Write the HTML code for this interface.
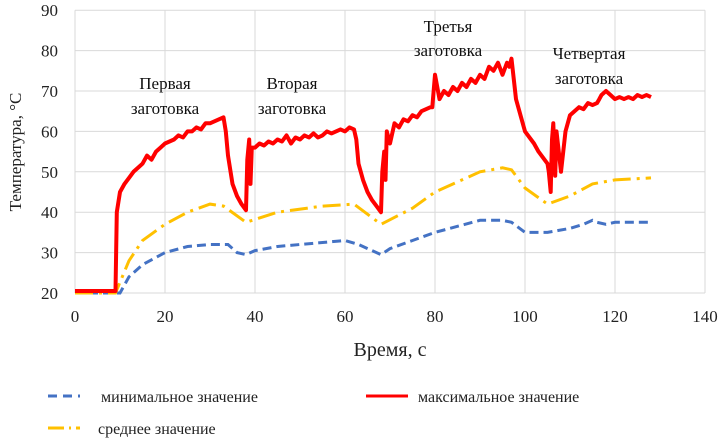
<!DOCTYPE html>
<html><head><meta charset="utf-8">
<style>
body{margin:0;background:#fff;}
svg text{font-family:"Liberation Serif",serif;}
</style></head>
<body>
<svg id="chart" width="721" height="442" viewBox="0 0 721 442" xmlns="http://www.w3.org/2000/svg">
<g id="grid"></g>
<g id="ticks"></g>
<g id="series"></g>
<text x="0" y="0" transform="translate(21,152) rotate(-90)" text-anchor="middle" font-size="17" fill="#222">Температура, °C</text>
<text x="390" y="356" text-anchor="middle" font-size="20" fill="#222">Время, с</text>
<g font-size="17" fill="#111" text-anchor="middle">
<text x="165" y="89">Первая</text>
<text x="165" y="114">заготовка</text>
<text x="292" y="89">Вторая</text>
<text x="292" y="114">заготовка</text>
<text x="448" y="32">Третья</text>
<text x="448" y="56">заготовка</text>
<text x="589" y="59">Четвертая</text>
<text x="589" y="84">заготовка</text>
</g>
<g font-size="16" fill="#222">
<g>
<line x1="48" y1="396" x2="80" y2="396" stroke="#4472c4" stroke-width="3" stroke-dasharray="9,6"/>
<text x="101" y="402">минимальное значение</text></g>
<g>
<line x1="366" y1="396" x2="408" y2="396" stroke="#ff0000" stroke-width="3"/>
<text x="418" y="402">максимальное значение</text></g>
<g>
<line x1="48" y1="428" x2="80" y2="428" stroke="#ffc000" stroke-width="3" stroke-dasharray="16,5,2,5"/>
<text x="98" y="434">среднее значение</text></g>
</g>
</svg>
<script>
const xTicks=[0,20,40,60,80,100,120,140];
const yTicks=[20,30,40,50,60,70,80,90];
const maxT=[0,9,9.3,10,11,12,13,14,15,16,17,18,19,20,21,22,23,24,25,26,27,28,29,30,31,32,33,33.5,34,35,36,37,38,38.3,38.7,39,39.3,40,41,42,43,44,45,46,47,48,49,50,51,52,53,54,55,56,57,58,59,60,61,62,62.5,63,64,65,66,67,68,68.3,68.7,69,69.3,70,71,72,73,74,75,76,77,78,79,79.4,80,81,82,83,84,85,86,87,88,89,90,91,92,93,94,95,96,96.5,97,98,100,102,103,105,105.3,105.7,106,106.3,106.7,107,108,109,110,111,112,113,114,115,116,116.5,117,118,119,120,121,122,123,124,125,126,127,128];
const maxV=[20.5,20.5,40,45,47,48.5,50,51,52,54,53,55,56,57,57.5,58,59,58.5,60,60,61,60.5,62,62,62.5,63,63.5,60,54,47,44,42,40.5,53,58,47,56,56,57,56.5,57.5,57,58,57.5,59,57,58.5,58,59,58.5,59.5,58.5,59,60,59.5,60,60.5,60,61,60.5,58,52,48,45,43,41.5,40,50,55,48,60,57,62,61,63,62.5,64,63.5,65,65.5,66,66,74,68,70,69,71,70,72,71,73,72,74,73,76,75,77,74,77,76,78,68,60,57,55,52,50,45,58,62,49,60,50,60,64,65,66,65.5,67,66.5,67,68,69,70,69,68,68.5,68,68.5,68,69,68.5,69,68.5,69,68,68];
const avgT=[0,9,12,15,20,25,30,33,38,45,55,62,68,75,80,90,95,97,100,105,110,115,120,128];
const avgV=[20,20,28,33,37,40,42,41.5,37.5,40,41.5,42,37,41,45,50,51,50.5,46,42,44,47,48,48.5];
const minT=[0,10,12,15,20,25,30,34,36,38,40,45,55,60,63,66,68,70,75,80,90,95,97,100,105,110,113,115,116,118,120,128];
const minV=[20,20,24,27,30,31.5,32,32,30,29.5,30.5,31.5,32.5,33,32,30.5,29.5,31,33,35,38,38,37.5,35,35,36,37,38,37.5,37,37.5,37.5];
const NS='http://www.w3.org/2000/svg';
const x=v=>75+v*4.5;
const y=v=>293-(v-20)*4.04;
const grid=document.getElementById('grid'),ticks=document.getElementById('ticks'),series=document.getElementById('series');
function mk(t,a,p){const e=document.createElementNS(NS,t);for(const k in a)e.setAttribute(k,a[k]);p.appendChild(e);return e;}
yTicks.forEach(v=>{
 const l=mk('line',{x1:75,x2:705,y1:y(v),y2:y(v),stroke:'#d9d9d9','stroke-width':1},grid);
 
 
 const t=mk('text',{x:58,y:y(v)+6,'text-anchor':'end','font-size':17,fill:'#222'},ticks);t.textContent=v;
 
 
});
xTicks.forEach(v=>{
 const l=mk('line',{x1:x(v),x2:x(v),y1:y(90),y2:y(20),stroke:'#d9d9d9','stroke-width':1},grid);
 
 
 const t=mk('text',{x:x(v),y:322,'text-anchor':'middle','font-size':17,fill:'#222'},ticks);t.textContent=v;
 
 
});
function pts(T,V){return T.map((t,i)=>x(t).toFixed(1)+','+y(V[i]).toFixed(1)).join(' ');}
const pMin=mk('polyline',{points:pts(minT,minV),fill:'none',stroke:'#4472c4','stroke-width':3,'stroke-dasharray':'9,5'},series);


const pAvg=mk('polyline',{points:pts(avgT,avgV),fill:'none',stroke:'#ffc000','stroke-width':3,'stroke-dasharray':'18,6,3,6'},series);


const pMax=mk('polyline',{points:pts(maxT,maxV),fill:'none',stroke:'#ff0000','stroke-width':4,'stroke-linejoin':'round'},series);


</script>
</body></html>
